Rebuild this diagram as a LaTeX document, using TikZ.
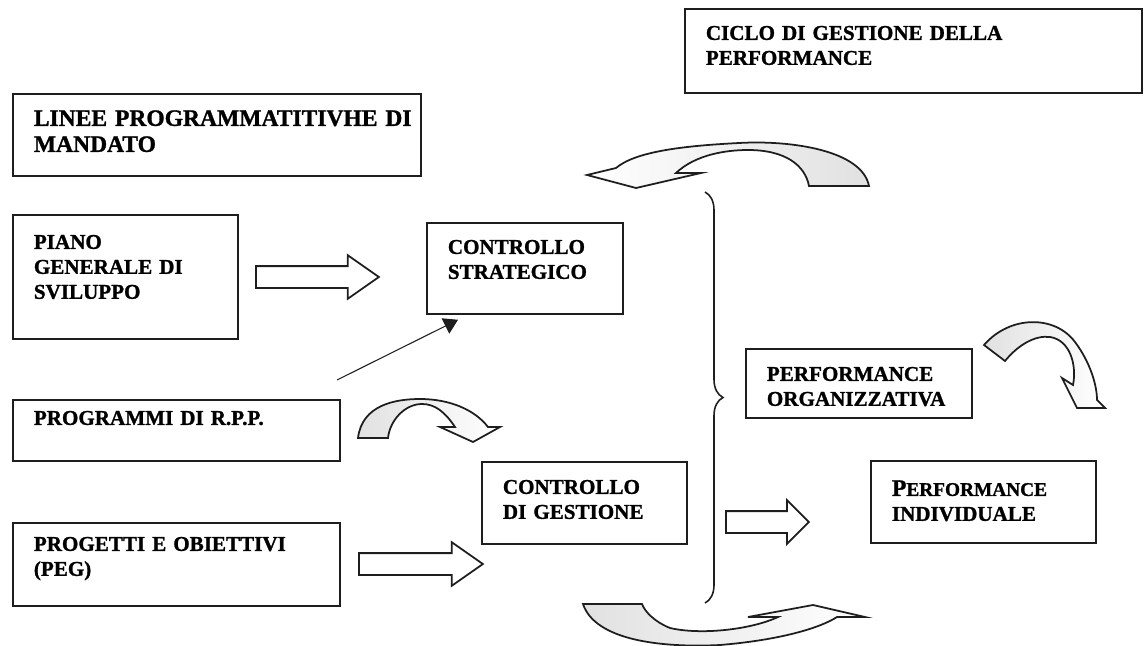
\documentclass[tikz,border=0pt]{standalone}
\usepackage{fontspec}
\setmainfont{Liberation Serif}[BoldFont={Liberation Serif Bold}, BoldFeatures={FakeBold=1.2}]
\usepackage{tikz}
\usetikzlibrary{
    positioning,
    arrows.meta,
    shapes.arrows,
    decorations.pathreplacing
}
\definecolor{BoxInk}{RGB}{30,30,30}
\definecolor{BendShade}{RGB}{225,225,225}
\tikzset{
    panel/.style={draw=BoxInk, line width=1pt, anchor=north west, inner xsep=4.2mm, inner ysep=0pt,
        align=left, text height=6.2mm, font=\fontsize{12}{14.2}\selectfont\bfseries},
    blockarrow/.style={single arrow, draw=BoxInk, line width=1pt, fill=white, inner xsep=0pt, inner ysep=2mm,
        minimum width=8.4mm, single arrow head extend=2.2mm, single arrow tip angle=70, anchor=tail},
    thinarrow/.style={-{Triangle[length=2.8mm,width=3.4mm]}, line width=0.6pt, draw=BoxInk},
    bendarrow/.style={draw=BoxInk, line width=1pt},
    bracket/.style={decorate, decoration={brace, amplitude=3.6mm}, line width=0.9pt, draw=BoxInk}
}
\begin{document}
\begin{tikzpicture}[x=0.2mm, y=-0.2mm]
    \useasboundingbox (0,0) rectangle (1146,646);
    \node[panel, text width=83mm, text depth=10.6mm] (ciclo) at (684,8) {\mbox{CICLO DI GESTIONE DELLA}\\PERFORMANCE};
    \node[panel, text width=73.2mm, text height=6.4mm, text depth=10mm,
        font=\fontsize{13.4}{14.8}\selectfont\bfseries] (linee) at (12,93) {\mbox{LINEE PROGRAMMATITIVHE DI}\\MANDATO};
    \node[panel, text width=36.6mm, text height=6.8mm, text depth=18mm] (piano) at (12,214) {PIANO\\\mbox{GENERALE DI}\\SVILUPPO};
    \node[panel, text width=30.8mm, text depth=12mm] (strat) at (426,222) {CONTROLLO\\STRATEGICO};
    \node[panel, text width=57mm, text height=5mm, text depth=7.2mm] (rpp) at (12,399) {\mbox{PROGRAMMI DI R.P.P.}};
    \node[panel, text width=57mm, text height=5.6mm, text depth=11mm] (peg) at (12,522) {\mbox{PROGETTI E OBIETTIVI}\\(PEG)};
    \node[panel, text width=32.6mm, text height=6.4mm, text depth=10mm] (gest) at (481,461) {CONTROLLO\\\mbox{DI GESTIONE}};
    \node[panel, text width=36.8mm, text height=6.4mm, text depth=7.4mm] (org) at (745,348) {PERFORMANCE\\ORGANIZZATIVA};
    \node[panel, text width=36.6mm, text height=7mm, text depth=9.4mm] (indiv) at (870,460)
        {{\fontsize{13.5}{14.2}\selectfont P}{\fontsize{11}{14.2}\selectfont ERFORMANCE}\\INDIVIDUALE};

    \node[blockarrow, minimum height=24.6mm] (pianoStrat) at (255,277) {};
    \node[blockarrow, minimum height=24.8mm] (pegGest) at (358,564) {};
    \node[blockarrow, minimum height=16.6mm, single arrow tip angle=90] (gestIndiv) at (725,522) {};

    \coordinate (rppFoot) at (337,380);
    \draw[thinarrow] (rppFoot) -- ([shift={(32,5)}]strat.south west);

    \draw[bracket] (705,192) -- (705,603);

    \shadedraw[bendarrow, left color=BendShade, right color=white]
        (358,438) .. controls (362,405) and (395,399) .. (420,399) .. controls (450,399) and (475,410) .. (488,427)
        -- (500,427) -- (473,442) -- (440,427) -- (455,427)
        .. controls (445,412) and (435,404) .. (422,404) .. controls (405,404) and (390,420) .. (388,438) -- cycle;
    \shadedraw[bendarrow, left color=white, right color=BendShade]
        (869,186) .. controls (862,150) and (790,140) .. (739,143) .. controls (680,146) and (635,152) .. (616,168)
        -- (587,175) -- (636,188) -- (701,173) -- (676,173)
        .. controls (695,155) and (725,150) .. (748,150) .. controls (785,150) and (805,165) .. (809,186) -- cycle;
    \shadedraw[bendarrow, left color=BendShade, right color=white]
        (984,345) .. controls (1010,315) and (1055,315) .. (1075,342) .. controls (1090,362) and (1097,385) .. (1097,400)
        -- (1105,408) -- (1077,408) -- (1062,378) -- (1073,385)
        .. controls (1077,365) and (1070,340) .. (1050,337) .. controls (1035,335) and (1018,345) .. (1005,361) -- cycle;
    \shadedraw[bendarrow, left color=BendShade, right color=white]
        (583,604) .. controls (595,640) and (660,648) .. (720,645) .. controls (780,640) and (820,628) .. (837,617)
        -- (865,617) -- (813,605) -- (748,617) -- (778,617)
        .. controls (750,630) and (700,635) .. (670,628) .. controls (655,622) and (645,612) .. (642,604) -- cycle;
\end{tikzpicture}
\end{document}
